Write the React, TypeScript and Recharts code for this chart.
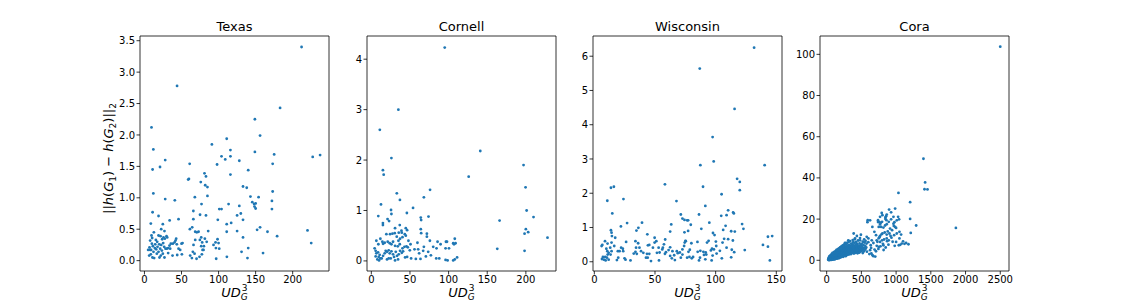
import React from "react";
import {
  ScatterChart,
  Scatter,
  XAxis,
  YAxis,
  ReferenceArea,
} from "recharts";

type Pt = [number, number];

const FONT = "DejaVu Sans";
const BLUE = "#1f77b4";

// values, [UD, distance]
const texasPts: Pt[] = [
  [212, 3.4], [44, 2.78], [183, 2.43], [149, 2.25], [9.5, 2.12], [156, 1.99], [111, 1.94], [91, 1.85],
  [12, 1.77], [116, 1.76], [149, 1.73], [175, 1.69], [237, 1.68], [104, 1.66], [116, 1.66], [227, 1.65],
  [109, 1.61], [28, 1.6], [128, 1.59], [61, 1.54], [173, 1.54], [98, 1.53], [21, 1.49], [11, 1.45],
  [140, 1.44], [81, 1.39], [116, 1.37], [83, 1.34], [60, 1.3], [59, 1.29], [76, 1.25], [82, 1.2],
  [133, 1.18], [85, 1.17], [138, 1.16], [173, 1.1], [12, 1.07], [85, 1.03], [143, 1.02], [68, 1.01],
  [154, 1.01], [28, 0.98], [41, 0.96], [172, 0.95], [145.5, 0.93], [150, 0.91], [77, 0.9], [113.5, 0.9],
  [148, 0.9], [128, 0.87], [148.5, 0.86], [150, 0.83], [172, 0.82], [101, 0.82], [104, 0.82], [66, 0.79],
  [11, 0.77], [130, 0.75], [75, 0.73], [83, 0.72], [125, 0.72], [19, 0.71], [46, 0.66], [66, 0.66],
  [133, 0.65], [99, 0.65], [34, 0.64], [117, 0.6], [8.6, 0.59], [111, 0.58], [24.8, 0.58],
  [156, 0.53], [152, 0.49], [125, 0.47], [166, 0.46], [220, 0.48], [179, 0.39], [225, 0.28], [133, 0.37],
  [140, 0.2], [131, 0.14], [160, 0.12], [139, 0.04],
  [22.6, 0.5], [27, 0.47], [12.7, 0.45], [9.5, 0.4], [10.4, 0.36], [7.7, 0.32], [15.4, 0.33], [19, 0.4],
  [21.7, 0.39], [23.9, 0.34], [25.7, 0.37], [27.5, 0.35], [29.8, 0.39], [30.7, 0.37], [17.2, 0.3], [19.9, 0.26],
  [22.6, 0.25], [25.3, 0.28], [26.6, 0.22], [28.4, 0.19], [30.2, 0.19], [32, 0.2], [33.8, 0.24], [35.6, 0.27],
  [38.3, 0.27], [40.6, 0.29], [42.8, 0.35], [41.9, 0.32], [43.7, 0.26], [48.2, 0.17], [50, 0.27], [46, 0.19],
  [44.2, 0.09], [50.5, 0.1], [37.9, 0.08], [32, 0.12], [27, 0.05], [20.3, 0.05], [19, 0.14], [16.7, 0.11],
  [14, 0.2], [11.3, 0.23], [6.8, 0.21], [7.7, 0.17], [8.6, 0.1], [6.4, 0.08], [10.8, 0.05], [13.1, 0.04],
  [23.5, 0.16], [21.2, 0.19], [34.7, 0.19], [5, 0.17], [10, 0.27], [14.5, 0.26], [15.8, 0.18], [9, 0.17],
  [12.2, 0.14], [17.6, 0.22], [24.8, 0.11], [22.1, 0.08],
  [61.3, 0.5], [64.4, 0.53], [68.5, 0.46], [70.7, 0.45], [73, 0.46], [74.8, 0.33], [76.6, 0.37], [77.9, 0.29],
  [80.2, 0.23], [76.6, 0.23], [78.4, 0.17], [68.5, 0.33], [66.2, 0.25], [65.3, 0.14], [67.6, 0.11], [61.7, 0.08],
  [64, 0.04], [70.3, 0.03], [74.3, 0.06], [77.5, 0.1], [79.7, 0.17], [51.4, 0.28], [86, 0.47], [81.5, 0.35],
  [93.2, 0.25], [95.9, 0.29], [98.6, 0.34], [96.4, 0.2], [100.9, 0.19], [96.8, 0.03], [111.2, 0.06], [111, 0.46],
  [84, 0.3], [100, 0.28],
];

const cornellPts: Pt[] = [
  [95, 4.23], [35, 3.0], [11, 2.6], [141, 2.18], [26, 2.04], [197, 1.9], [15, 1.8], [16, 1.71],
  [126, 1.67], [199.6, 1.46], [76, 1.41], [33, 1.34], [68, 1.26], [37, 1.21], [12.5, 1.12], [54, 1.05],
  [25.5, 1.01], [201, 1.0], [46, 0.95], [26, 0.93], [9, 0.89], [74, 0.88], [209.9, 0.87], [64, 0.86],
  [21, 0.83], [64.5, 0.81], [166, 0.8], [23, 0.79], [15, 0.75], [15, 0.71], [200, 0.63], [203, 0.57],
  [198.3, 0.54], [228, 0.46], [163, 0.24], [198.3, 0.2], [108, 0.44], [106, 0.35], [109, 0.35], [107, 0.33],
  [111, 0.07], [108, 0.03], [106, 0.01], [64, 0.63], [64.5, 0.55],
  [36.8, 0.71], [44.6, 0.65], [46.3, 0.61], [71.9, 0.54], [71.9, 0.48], [39, 0.6], [30.7, 0.65], [19.5, 0.53],
  [24.2, 0.53], [27.3, 0.54], [30.3, 0.55], [35.5, 0.56], [39.4, 0.56], [43.3, 0.53], [32.9, 0.48], [37.2, 0.44],
  [40.3, 0.47], [44.6, 0.5], [48, 0.4], [59.7, 0.36], [85.7, 0.38], [89.6, 0.33], [96.6, 0.38], [97.9, 0.38],
  [75.8, 0.4], [84.4, 0.25], [96.1, 0.25], [100.5, 0.25], [6.5, 0.4], [9.1, 0.33], [11.7, 0.44], [14.3, 0.38],
  [15.2, 0.34], [17.3, 0.36], [21.2, 0.38], [23.8, 0.35], [26, 0.33], [28.1, 0.38], [30.7, 0.3], [34.2, 0.29],
  [35.1, 0.4], [36.8, 0.33], [40.3, 0.25], [42.9, 0.28], [45.5, 0.29], [47.2, 0.27], [50.7, 0.33], [49.8, 0.21],
  [55.9, 0.23], [60.6, 0.23], [61.9, 0.15], [67.1, 0.2], [68, 0.28], [73.6, 0.18], [80.1, 0.28], [4.3, 0.25],
  [5.6, 0.2], [6.5, 0.15], [8.7, 0.17], [10.8, 0.12], [9.5, 0.08], [11.7, 0.05], [13.4, 0.05], [15.2, 0.1],
  [17.3, 0.15], [18.6, 0.2], [20.3, 0.18], [22.5, 0.21], [23.8, 0.15], [26, 0.19], [28.1, 0.13], [29.4, 0.08],
  [31.6, 0.18], [33.3, 0.1], [35.5, 0.13], [37.2, 0.2], [39.4, 0.16], [41.1, 0.19], [43.7, 0.07], [46.3, 0.08],
  [51.5, 0.05], [57.6, 0.04], [63.6, 0.04], [70.6, 0.09], [77.1, 0.11], [84, 0.05], [87.9, 0.05], [96.1, 0.02],
  [98.7, 0.01], [5.6, 0.09], [7.8, 0.03], [10, 0.01], [20.3, 0.03], [22.5, 0.05], [25.1, 0.05], [30.7, 0.01],
  [34.6, 0.03],
];

const wisconsinPts: Pt[] = [
  [131.7, 6.25], [86.9, 5.64], [115.6, 4.46], [97.5, 3.64], [98.4, 2.93], [87.4, 2.82], [140.4, 2.82], [117.7, 2.42],
  [119.9, 2.33], [58.2, 2.26], [89.6, 2.19], [16.1, 2.19], [13.7, 2.16], [119.9, 2.09], [104.9, 1.97], [24, 1.83],
  [10.7, 1.78], [67.7, 1.77], [91.5, 1.63], [110.3, 1.5], [114.4, 1.44], [115, 1.41], [14.8, 1.41], [86.3, 1.38],
  [71.3, 1.38], [109, 1.36], [104.6, 1.34], [72.6, 1.26], [74.3, 1.22], [76.5, 1.21], [77.3, 1.21], [39.3, 1.14],
  [27, 1.13], [94.8, 1.14], [121.8, 1.1], [63.4, 1.09], [79.5, 1.08], [108.2, 1.05], [21.9, 1.03], [36.3, 0.99],
  [122.9, 0.96], [88.2, 0.96], [106.2, 0.93], [13.7, 0.92], [34.7, 0.91], [77.3, 0.9], [112.8, 0.89], [62.5, 0.88],
  [115.8, 0.88], [14.2, 0.85], [74.3, 0.86], [97.8, 0.84], [43.7, 0.8], [99.1, 0.78], [14.5, 0.75], [146.6, 0.75],
  [143.1, 0.73], [17.2, 0.7], [107, 0.67], [110.3, 0.66], [114.2, 0.62], [94.2, 0.61], [75.1, 0.61], [85, 0.58],
  [100.2, 0.59], [92.9, 0.56], [105.7, 0.56], [80, 0.54], [139, 0.49], [143.1, 0.44], [100.5, 0.46], [124, 0.34],
  [109, 0.41], [113.3, 0.35], [115.3, 0.28], [78.7, 0.35], [77.6, 0.29], [85.2, 0.29], [87.4, 0.32], [89.9, 0.29],
  [92.3, 0.21], [91.8, 0.27], [96.1, 0.33], [97, 0.38], [98.6, 0.36], [103.5, 0.32], [100.8, 0.24], [97.5, 0.18],
  [96.7, 0.04], [90.4, 0.2], [91.5, 0.07], [87.1, 0.12], [86.3, 0.04], [80.3, 0.1], [81.4, 0.14], [76.5, 0.12],
  [78.4, 0.14], [105.1, 0.1], [112.8, 0.13], [144.7, 0.04],
  [6, 0.46], [6.6, 0.49], [8.8, 0.6], [9.9, 0.38], [10.7, 0.31], [11, 0.21], [11.8, 0.26], [9, 0.14],
  [7.1, 0.14], [6.3, 0.08], [7.9, 0.06], [9.3, 0.04], [10.4, 0.12], [13.1, 0.41], [14.2, 0.31], [13.4, 0.21],
  [11.8, 0.06], [14.2, 0.56], [10.9, 0.53], [16.4, 0.46], [19.4, 0.31], [20.8, 0.31], [26.2, 0.58], [23.5, 0.38],
  [22.1, 0.41], [23.8, 0.31], [19.7, 0.12], [18.6, 0.05], [24.9, 0.1], [25.7, 0.06], [29.8, 0.04], [32.5, 0.24],
  [33.9, 0.29], [35, 0.23], [33.9, 0.6], [36.1, 0.54], [37.2, 0.41], [38.5, 0.31], [40.4, 0.26], [43.4, 0.23],
  [44, 0.12], [45.3, 0.23], [46.7, 0.02], [42.6, 0.12], [44.2, 0.48], [45.3, 0.49], [48.3, 0.41], [49.7, 0.7],
  [49.7, 0.56], [51.1, 0.6], [51.6, 0.26], [53.8, 0.27], [56, 0.36], [57.4, 0.51], [58.4, 0.65], [56.5, 0.41],
  [58.2, 0.23], [59, 0.28], [61.2, 0.34], [62.5, 0.42], [64.4, 0.31], [65.8, 0.19], [66.4, 0.05], [68, 0.31],
  [68.8, 0.25], [70.5, 0.27], [72.6, 0.21], [71.3, 0.12], [72.6, 0.36], [74, 0.46], [74.5, 0.56], [75.4, 0.6],
  [62.5, 0.17], [63.9, 0.1], [53.3, 0.04], [53, 0.41], [34.4, 0.41],
];

const coraPts: Pt[] = [
  [2500, 103.7], [1394, 49.3], [1418, 37.8], [1409, 34.5], [1452, 34.4], [1034, 32.7], [1202, 28.2], [1289, 16.9],
  [1861, 15.7], [1202, 20.1], [1211, 13.3], [986, 25.1], [928, 23.3], [793, 23], [899, 24.6], [865, 22.2],
  [856, 21.4], [846, 20.1], [1029, 21.1], [1043, 19.9], [1010, 19.4], [976, 18.5], [740, 18.6], [760, 18.5],
  [625, 19.4], [587, 18.5], [967, 16.7], [1000, 15.7],
  [740, 19.5], [779, 18.2], [798, 18.7], [769, 17.4], [750, 16.2], [784, 16.2], [817, 15.9], [841, 16.9],
  [865, 17.5], [894, 18.7], [913, 15.4], [942, 14.6], [904, 13], [865, 12.5], [836, 13.5], [803, 13],
  [769, 11.8], [750, 10.7], [721, 9.7], [711, 12.2], [769, 8.9], [798, 9.7], [827, 10.1], [865, 10.6],
  [894, 9.7], [933, 11], [971, 12.2], [1010, 13], [1048, 13.8], [1072, 12.5], [1048, 10.6], [1082, 8.1],
  [1000, 8.9], [1039, 7.3], [721, 7], [750, 6.5], [817, 7.3], [673, 8.4], [687, 13.8], [658, 16.2],
  [591, 19.5], [577, 11.4], [601, 10.6], [649, 9.7], [634, 7.3], [625, 4.9], [673, 2], [644, 3.3],
  [529, 8.9], [481, 9.7], [500, 7.3], [432, 8.1], [457, 6.5], [389, 13], [408, 10.6], [384, 8.8],
  [365, 7.3], [346, 6.5], [327, 5.7], [312, 9.7], [288, 8.1], [264, 8.4], [240, 7.3], [803, 21.9],
  [962, 17.8], [928, 19.9], [962, 21.1], [1144, 8.4], [1178, 7.8], [986, 16.2], [846, 20.8], [860, 19.5],
  [769, 21.1], [520, 3.5], [540, 10.2], [560, 5.6], [580, 4.2], [600, 8.8], [615, 3], [640, 6],
  [660, 2.5], [690, 5.2], [700, 1.8], [710, 4.4], [730, 9], [745, 5.5], [760, 11.2], [775, 6.8],
  [790, 12.6], [810, 8], [820, 5], [850, 6.2], [870, 9.3], [880, 14], [890, 7.6], [920, 11.8],
  [950, 9], [980, 7], [1060, 7.5], [1100, 9.2], [1120, 8],
  [22, 0.3], [25, 0.8], [28, 0.1], [30, 1.2], [32, 0.5], [35, 0.2], [36, 1.6], [38, 0.9],
  [40, 0.4], [42, 2], [44, 1.1], [45, 0.1], [48, 0.6], [50, 1.4], [52, 2.3], [54, 0.3],
  [55, 0.9], [58, 1.8], [60, 0.5], [62, 1.2], [63, 2.6], [65, 0.2], [67, 1.5], [68, 0.8],
  [70, 2.1], [72, 0.4], [74, 3.1], [75, 1], [77, 1.7], [78, 0.3], [80, 2.4], [82, 0.7],
  [84, 1.3], [85, 3.6], [87, 0.5], [88, 2], [90, 1.1], [92, 2.8], [94, 0.4], [95, 1.6],
  [97, 3.3], [98, 0.9], [100, 2.2], [102, 1.3], [104, 0.6], [105, 3.9], [107, 1.9], [108, 2.6],
  [110, 0.8], [112, 1.5], [113, 3], [115, 0.4], [117, 2.3], [118, 4.2], [120, 1.1], [122, 2.9],
  [123, 1.7], [125, 0.7], [127, 3.5], [128, 2.1], [130, 1.3], [132, 4.6], [133, 2.5], [135, 0.9],
  [137, 3.2], [138, 1.8], [140, 2.7], [142, 5], [143, 1.2], [145, 3.8], [147, 2.2], [148, 0.8],
  [150, 3], [152, 1.6], [153, 4.3], [155, 2.5], [157, 1.1], [158, 3.5], [160, 5.4], [162, 2],
  [163, 4], [165, 1.4], [167, 2.9], [168, 3.7], [170, 1.9], [172, 4.8], [173, 2.6], [175, 1],
  [177, 3.3], [178, 5.8], [180, 2.2], [182, 4.1], [183, 1.6], [185, 3], [187, 5], [188, 2.4],
  [190, 3.8], [192, 1.3], [193, 6.2], [195, 2.8], [197, 4.4], [198, 1.9], [200, 3.4], [202, 5.6],
  [203, 2.3], [205, 4], [207, 1.5], [208, 3.1], [210, 6.6], [212, 2.6], [213, 4.7], [215, 3.6],
  [217, 1.8], [218, 5.2], [220, 2.9], [222, 7], [223, 4.2], [225, 3.3], [227, 2.1], [228, 5.9],
  [230, 3.8], [232, 2.5], [233, 4.9], [235, 6.3], [237, 3], [238, 1.7], [240, 4.4], [242, 5.5],
  [243, 2.7], [245, 3.7], [247, 7.4], [248, 4.8], [250, 2.2], [252, 6], [253, 3.4], [255, 5.1],
  [257, 2.8], [258, 4.1], [260, 8], [262, 3.6], [263, 5.7], [265, 2.4], [267, 4.6], [268, 6.8],
  [270, 3.2], [272, 5.3], [273, 2], [275, 4.3], [277, 7.8], [278, 3.9], [280, 6.1], [282, 2.9],
  [283, 5], [285, 3.5], [287, 8.4], [288, 4.7], [290, 6.4], [292, 3.1], [293, 5.6], [295, 2.6],
  [297, 4], [298, 7.1], [300, 5.2], [303, 3.7], [305, 6.6], [307, 4.4], [308, 2.8], [310, 5.9],
  [313, 8.8], [315, 3.9], [317, 5], [318, 6.9], [320, 3.3], [323, 4.6], [325, 7.5], [327, 5.4],
  [330, 2.9], [332, 6.2], [335, 4.1], [337, 9.3], [340, 5.7], [342, 3.5], [345, 7], [347, 4.8],
  [350, 6], [352, 3], [355, 8.1], [358, 5.1], [360, 4], [362, 6.6], [365, 3.6], [367, 7.7],
  [370, 5.5], [372, 4.3], [375, 9.8], [377, 6.3], [380, 3.8], [382, 5], [385, 7.2], [387, 4.5],
  [390, 6], [392, 3.3], [395, 8.5], [398, 5.3], [400, 4.1], [403, 6.8], [405, 10.2], [408, 4.8],
  [410, 5.8], [413, 3.6], [415, 7.6], [418, 5], [420, 6.4], [423, 4.2], [425, 8.9], [428, 5.5],
  [430, 3.9], [433, 6.9], [435, 11.8], [438, 4.6], [440, 5.9], [443, 7.5], [445, 3.4], [448, 6.3],
  [450, 4.8], [453, 9.6], [455, 5.7], [458, 4], [460, 7], [465, 5.2], [468, 6.1], [470, 3.7],
  [473, 8.2], [475, 4.9], [478, 6.6], [480, 10.8], [483, 5.4], [485, 4.2], [488, 7.3], [490, 5.9],
  [493, 12.4], [495, 4.5], [498, 6.8], [500, 5.2], [505, 8], [510, 4.7], [515, 6.3], [520, 9.1],
  [525, 5.5], [530, 7.4], [535, 4.3], [540, 6], [545, 8.6], [550, 5.1], [555, 7], [560, 9.4],
  [570, 6.2], [575, 8.1],
];

const texasXTicks = [0, 50, 100, 150, 200];
const texasYTicks = [0, 0.5, 1, 1.5, 2, 2.5, 3, 3.5];
const cornellXTicks = [0, 50, 100, 150, 200];
const cornellYTicks = [0, 1, 2, 3, 4];
const wisconsinXTicks = [0, 50, 100, 150];
const wisconsinYTicks = [0, 1, 2, 3, 4, 5, 6];
const coraXTicks = [0, 500, 1000, 1500, 2000, 2500];
const coraYTicks = [0, 20, 40, 60, 80, 100];

const AXIS_W = 70;
const PLOT_W = 189;

const panels = [
  { title: "Texas", points: texasPts, left: 140, xDomain: [-6, 249], yDomain: [-0.165, 3.575], xTicks: texasXTicks, yTicks: texasYTicks, fmt: (v: number) => v.toFixed(1), ylabel: true },
  { title: "Cornell", points: cornellPts, left: 367, xDomain: [-5.6, 239], yDomain: [-0.2, 4.46], xTicks: cornellXTicks, yTicks: cornellYTicks, fmt: (v: number) => String(v), ylabel: false },
  { title: "Wisconsin", points: wisconsinPts, left: 593, xDomain: [-1.1, 154.7], yDomain: [-0.27, 6.59], xTicks: wisconsinXTicks, yTicks: wisconsinYTicks, fmt: (v: number) => String(v), ylabel: false },
  { title: "Cora", points: coraPts, left: 820, xDomain: [-96, 2626], yDomain: [-5.2, 108.9], xTicks: coraXTicks, yTicks: coraYTicks, fmt: (v: number) => String(v), ylabel: false },
];

const Dot = (p: any) => <circle cx={p.cx} cy={p.cy} r={1.4} fill={BLUE} />;

const XLabel = (props: any) => {
  const vb = props.viewBox;
  const x = vb.x + vb.width / 2;
  const y = vb.y + 26;
  return (
    <text x={x} y={y} textAnchor="middle" fontSize={13} fontFamily={FONT} fill="#000">
      <tspan fontStyle="italic">UD</tspan>
      <tspan fontStyle="italic" fontSize={9} dy={3}>G</tspan>
      <tspan fontSize={9} dx={-6} dy={-9}>3</tspan>
    </text>
  );
};

const YLabel = (props: any) => {
  const vb = props.viewBox;
  const x = vb.x + vb.width - 27;
  const y = vb.y + vb.height / 2 + 5;
  return (
    <text x={x} y={y} transform={`rotate(-90 ${x} ${y})`} textAnchor="middle" fontSize={13} fontFamily={FONT} fill="#000">
      <tspan>||</tspan>
      <tspan fontStyle="italic">h</tspan>
      <tspan>(</tspan>
      <tspan fontStyle="italic">G</tspan>
      <tspan fontSize={9} dy={3}>1</tspan>
      <tspan dy={-3}>) − </tspan>
      <tspan fontStyle="italic">h</tspan>
      <tspan>(</tspan>
      <tspan fontStyle="italic">G</tspan>
      <tspan fontSize={9} dy={3}>2</tspan>
      <tspan dy={-3}>)||</tspan>
      <tspan fontSize={9} dy={3}>2</tspan>
    </text>
  );
};

function Panel({ cfg }: { cfg: (typeof panels)[number] }) {
  const data = cfg.points.map(([x, y]) => ({ x, y }));
  const tickStyle = { fontSize: 10, fill: "#000", fontFamily: FONT };
  return (
    <div style={{ position: "absolute", left: cfg.left - AXIS_W, top: 0 }}>
      <ScatterChart
        width={AXIS_W + PLOT_W + 6}
        height={304}
        margin={{ top: 36, right: 6, bottom: 0, left: 0 }}
      >
        <XAxis
          type="number"
          dataKey="x"
          domain={cfg.xDomain}
          ticks={cfg.xTicks}
          interval={0}
          allowDataOverflow
          axisLine={false}
          tickSize={3.5}
          tickMargin={1.5}
          tick={tickStyle}
          tickLine={{ stroke: "#000", strokeWidth: 0.8 }}
          height={33}
          label={{ content: XLabel }}
        />
        <YAxis
          type="number"
          dataKey="y"
          domain={cfg.yDomain}
          ticks={cfg.yTicks}
          interval={0}
          allowDataOverflow
          axisLine={false}
          tickSize={3.5}
          tickMargin={1.5}
          tick={tickStyle}
          tickLine={{ stroke: "#000", strokeWidth: 0.8 }}
          tickFormatter={cfg.fmt}
          width={AXIS_W}
          label={cfg.ylabel ? { content: YLabel } : undefined}
        />
        <ReferenceArea
          x1={cfg.xDomain[0]}
          x2={cfg.xDomain[1]}
          y1={cfg.yDomain[0]}
          y2={cfg.yDomain[1]}
          fill="none"
          stroke="#000"
          strokeWidth={0.8}
          ifOverflow="visible"
          label={{ value: cfg.title, position: "top", offset: 5, fontSize: 13, fill: "#000", fontFamily: FONT }}
        />
        <Scatter data={data} isAnimationActive={false} shape={Dot} />
      </ScatterChart>
    </div>
  );
}

export default function App() {
  return (
    <div style={{ position: "absolute", left: 0, top: 0, width: 1121, height: 304, background: "#fff" }}>
      {panels.map((p) => (
        <Panel key={p.title} cfg={p} />
      ))}
    </div>
  );
}
